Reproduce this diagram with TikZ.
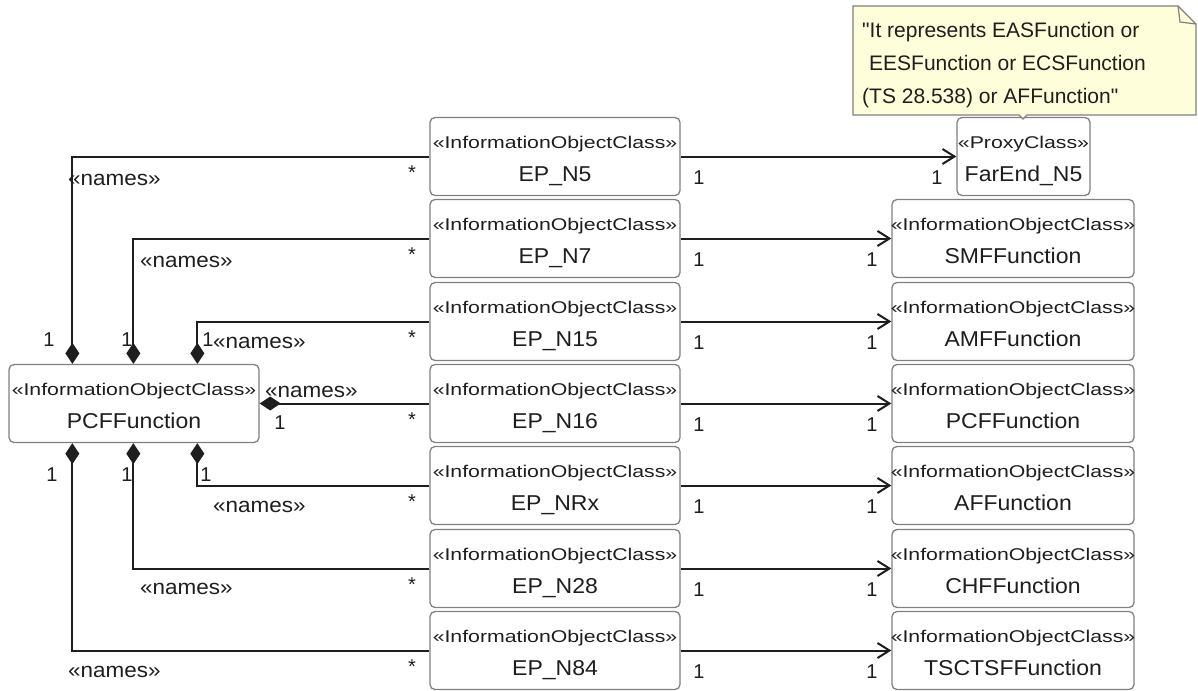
\documentclass[tikz,border=0pt]{standalone}
\usepackage{fontspec}
\setmainfont{Liberation Sans}
\newfontfamily\namefont[FakeStretch=1.07]{Liberation Sans}
\newfontfamily\stereofont[FakeStretch=1.25]{Liberation Sans}
\newfontfamily\notefont[Ligatures=TeXOff]{Liberation Sans}
\usetikzlibrary{arrows.meta}
\definecolor{boxgray}{RGB}{128,128,128}
\definecolor{ink}{RGB}{30,30,30}
\definecolor{notefill}{RGB}{254,254,218}
\tikzset{
 umlbox/.style={draw=boxgray, line width=1.3pt, rounded corners=5pt, fill=white, inner sep=0pt, minimum height=78pt},
 stereo/.style={font=\stereofont\fontsize{17}{17}\selectfont, text=ink, anchor=base, inner sep=0pt},
 title/.style={font=\namefont\fontsize{21.5}{21.5}\selectfont, text=ink, anchor=base, inner sep=0pt},
 role/.style={font=\namefont\fontsize{21}{21}\selectfont, text=ink, anchor=west, inner sep=0pt},
 mult/.style={font=\fontsize{20}{20}\selectfont, text=ink, inner sep=0pt},
 notetext/.style={font=\notefont\fontsize{21}{21}\selectfont, text=ink, anchor=base west, inner sep=0pt},
 comp/.style={draw=ink, line width=2pt, -{Diamond[length=21pt,width=14pt]}},
 assoc/.style={draw=ink, line width=2pt, -{Straight Barb[length=12pt,width=15pt]}},
}
\newcommand\umlclass[6]{%
  \node[umlbox, minimum width=#4] (#1) at (#2,#3) {};
  \node[stereo] (#1-s) at ([yshift=-32pt]#1.north) {«#5»};
  \node[title] (#1-t) at ([yshift=-65pt]#1.north) {#6};
}
\begin{document}
\begin{tikzpicture}[x=1pt,y=-1pt]
\useasboundingbox (0,0) rectangle (1198,690);
% class boxes
\umlclass{pcf}{134}{403.5}{250pt}{InformationObjectClass}{PCFFunction}
\umlclass{ep1}{555}{156.5}{250pt}{InformationObjectClass}{EP\_N5}
\umlclass{ep2}{555}{238.5}{250pt}{InformationObjectClass}{EP\_N7}
\umlclass{ep3}{555}{321.5}{250pt}{InformationObjectClass}{EP\_N15}
\umlclass{ep4}{555}{403.5}{250pt}{InformationObjectClass}{EP\_N16}
\umlclass{ep5}{555}{485.5}{250pt}{InformationObjectClass}{EP\_NRx}
\umlclass{ep6}{555}{568.5}{250pt}{InformationObjectClass}{EP\_N28}
\umlclass{ep7}{555}{650.5}{250pt}{InformationObjectClass}{EP\_N84}
\umlclass{far}{1023.5}{156.5}{133pt}{ProxyClass}{FarEnd\_N5}
\umlclass{smf}{1013}{238.5}{242pt}{InformationObjectClass}{SMFFunction}
\umlclass{amf}{1013}{321.5}{242pt}{InformationObjectClass}{AMFFunction}
\umlclass{pcfr}{1013}{403.5}{242pt}{InformationObjectClass}{PCFFunction}
\umlclass{af}{1013}{485.5}{242pt}{InformationObjectClass}{AFFunction}
\umlclass{chf}{1013}{568.5}{242pt}{InformationObjectClass}{CHFFunction}
\umlclass{tsc}{1013}{650.5}{242pt}{InformationObjectClass}{TSCTSFFunction}
% composition connectors to PCFFunction
\draw[comp] (ep1.west) -| ([xshift=64pt]pcf.north west);
\draw[comp] (ep2.west) -| ([xshift=125pt]pcf.north west);
\draw[comp] (ep3.west) -| ([xshift=189pt]pcf.north west);
\draw[comp] (ep4.west) -- (pcf.east);
\draw[comp] (ep5.west) -| ([xshift=189pt]pcf.south west);
\draw[comp] (ep6.west) -| ([xshift=125pt]pcf.south west);
\draw[comp] (ep7.west) -| ([xshift=64pt]pcf.south west);
% associations
\draw[assoc] (ep1.east) -- (far.west);
\draw[assoc] (ep2.east) -- (smf.west);
\draw[assoc] (ep3.east) -- (amf.west);
\draw[assoc] (ep4.east) -- (pcfr.west);
\draw[assoc] (ep5.east) -- (af.west);
\draw[assoc] (ep6.east) -- (chf.west);
\draw[assoc] (ep7.east) -- (tsc.west);
% role labels
\node[role] (r1) at (68,180) {«names»};
\node[role] (r2) at (140,262) {«names»};
\node[role] (r3) at (213,343) {«names»};
\node[role] (r4) at (265,392) {«names»};
\node[role] (r5) at (213,507) {«names»};
\node[role] (r6) at (140,589) {«names»};
\node[role] (r7) at (68,672) {«names»};
% multiplicities near PCFFunction
\node[mult] (m1) at (49,340) {1};
\node[mult] (m2) at (127,340) {1};
\node[mult] (m3) at (208,340) {1};
\node[mult] (m4) at (280,423) {1};
\node[mult] (m5) at (206,475) {1};
\node[mult] (m6) at (127,475) {1};
\node[mult] (m7) at (52,475) {1};
% stars near EP boxes and multiplicities of associations
\foreach \y [count=\i] in {156.5,238.5,321.5,403.5,485.5,568.5,650.5}{
  \node[mult] (s\i) at (412,\y+16) {*};
  \node[mult] (a\i) at (699,\y+21) {1};
}
\node[mult] (b1) at (937,177.5) {1};
\foreach \y [count=\i from 2] in {238.5,321.5,403.5,485.5,568.5,650.5}{
  \node[mult] (b\i) at (872,\y+21) {1};
}
% note
\draw[draw=boxgray, line width=1.2pt, fill=notefill] (853,6) -- (1178,6) -- (1196,24) -- (1196,115) -- (1027,115) -- (1023,119) -- (1019,115) -- (853,115) -- cycle;
\draw[boxgray, line width=1.2pt] (1178,6) -- (1180,22) -- (1196,24);
\node[notetext] (n1) at (862,38) {"It represents EASFunction or};
\node[notetext] (n2) at (869,71) {EESFunction or ECSFunction};
\node[notetext] (n3) at (862,104) {(TS 28.538) or AFFunction"};
\end{tikzpicture}
\end{document}
